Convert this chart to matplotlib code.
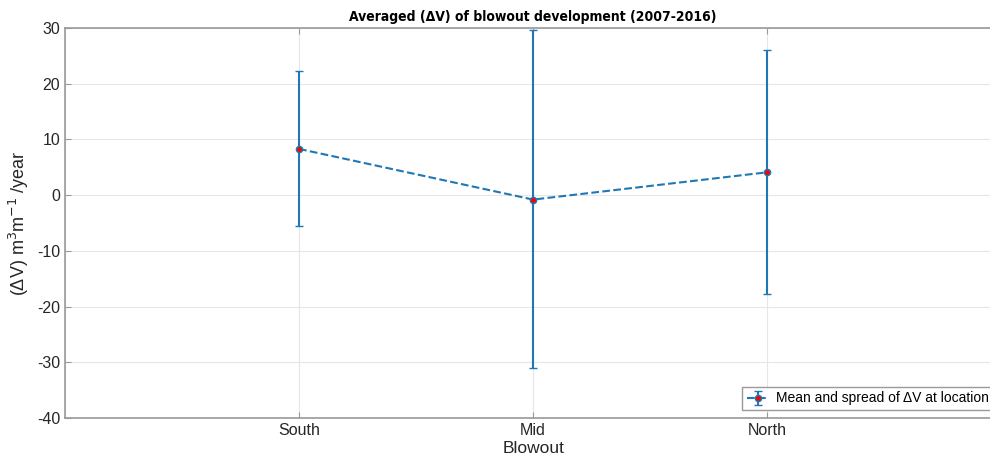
import numpy as np
import matplotlib.pyplot as plt

# averaged dV per blowout location, with spread (min/max)
locations = ['South', 'Mid', 'North']
xpos = [1, 2, 3]
mean_dv = [8.3, -0.8, 4.1]
upper_dv = [22.3, 29.6, 26.1]
lower_dv = [-5.6, -31.0, -17.8]

plt.rcParams['font.family'] = ['Liberation Sans', 'DejaVu Sans']
plt.rcParams['axes.unicode_minus'] = False

blue = '#1f77b4'

fig = plt.figure(figsize=(9.9, 4.65), dpi=100)
ax = fig.add_axes([0.0657, 0.1011, 0.9455, 0.8387])

err_lo = np.array(mean_dv) - np.array(lower_dv)
err_hi = np.array(upper_dv) - np.array(mean_dv)

ax.errorbar(xpos, mean_dv, yerr=[err_lo, err_hi], color=blue, ls='--',
            lw=1.5, elinewidth=1.5, capsize=3, capthick=1.5,
            marker='o', ms=4.5, mfc='red', mec=blue, mew=1.0,
            label='Mean and spread of \u0394V at location')

ax.set_xlim(0, 4)
ax.set_ylim(-40, 30)
ax.set_xticks(xpos)
ax.set_xticklabels(locations)
ax.set_yticks(range(-40, 31, 10))
ax.set_xticks([0, 4], minor=True)
ax.grid(True, which='both', color='#e6e6e6', lw=0.8)
ax.set_axisbelow(True)
ax.tick_params(direction='in', length=4, color='#999999', labelsize=11.5,
               labelcolor='#262626', top=True, right=True)
ax.tick_params(which='minor', length=0)
for s in ax.spines.values():
    s.set_color('#999999')
    s.set_linewidth(1.2)

ax.set_xlabel('Blowout', fontsize=12.5, color='#262626', labelpad=2)
ax.set_ylabel('(\u0394V) m$^3$m$^{-1}$ /year', fontsize=13, color='#262626',
              labelpad=4)
ax.set_title('Averaged (\u0394V) of blowout development (2007-2016)',
             fontsize=10, fontweight='bold', family='DejaVu Sans',
             fontstretch='condensed', pad=5)

leg = ax.legend(loc='lower right', fontsize=10, borderaxespad=0.6,
                fancybox=False, framealpha=1, edgecolor='#999999',
                handlelength=1.6, handletextpad=0.5, borderpad=0.3)

fig.savefig('out.png', dpi=100)
